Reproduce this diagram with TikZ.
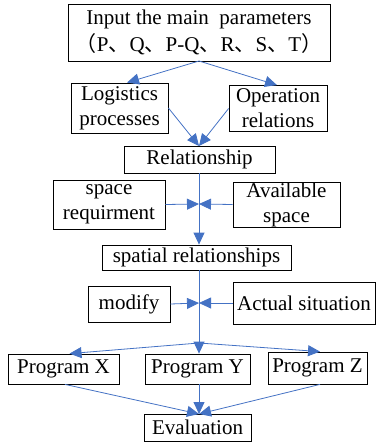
\documentclass[tikz,border=0pt]{standalone}
\usepackage{fontspec}
\setmainfont{Liberation Serif}
\newfontfamily\textserif{Liberation Serif}
\newfontfamily\cjk{Noto Sans CJK SC}
\usetikzlibrary{arrows.meta}

\definecolor{boxcolor}{RGB}{0,0,0}
\definecolor{linkcolor}{RGB}{68,114,196}

\begin{document}
\begin{tikzpicture}[x=1pt,y=-1pt,
    stepbox/.style={draw=boxcolor,line width=0.8pt,inner sep=0pt,align=center,
        font=\textserif\fontsize{21}{25}\selectfont},
    link/.style={draw=linkcolor,line width=0.8pt,-{Triangle[length=12pt,width=11pt]}}]
    \useasboundingbox (0,0) rectangle (377,443);

    % Draw the boxes
    \node[stepbox,minimum width=262pt,minimum height=57pt,font=\textserif\fontsize{21}{27}\selectfont] (input) at (199,32.5)
        {Input the main~ parameters\\{\cjk （}P{\cjk 、}Q{\cjk 、}P-Q{\cjk 、}R{\cjk 、}S{\cjk 、}T{\cjk ）}};
    \node[stepbox,minimum width=97pt,minimum height=50pt] (logis) at (119.5,108) {Logistics\\processes};
    \node[stepbox,minimum width=98pt,minimum height=46pt] (oper) at (278,108.5) {Operation\\relations};
    \node[stepbox,minimum width=151pt,minimum height=27pt] (rel) at (199.5,159.5) {Relationship};
    \node[stepbox,minimum width=112pt,minimum height=49pt] (spacereq) at (109,204.5) {space\\requirment};
    \node[stepbox,minimum width=107pt,minimum height=45pt] (avail) at (286.5,204.5) {Available\\space};
    \node[stepbox,minimum width=189pt,minimum height=25pt] (spatial) at (196.5,257.5) {spatial relationships};
    \node[stepbox,minimum width=82pt,minimum height=36pt] (modify) at (129,304) {modify};
    \node[stepbox,minimum width=142pt,minimum height=42pt] (actual) at (304,303) {Actual situation};
    \node[stepbox,minimum width=111pt,minimum height=30pt] (progx) at (63.5,369) {Program X};
    \node[stepbox,minimum width=105pt,minimum height=30pt] (progy) at (197.5,369) {Program Y};
    \node[stepbox,minimum width=99pt,minimum height=32pt] (progz) at (317.5,368) {Program Z};
    \node[stepbox,minimum width=107pt,minimum height=27pt] (eval) at (197.5,427.5) {Evaluation};

    % Junction points on the main line
    \coordinate (top) at (199,61);
    \coordinate (relin) at (199,146);
    \coordinate (join1) at (199,204);
    \coordinate (join2) at (199,303);
    \coordinate (split) at (199,343);
    \coordinate (evalin) at (199,414);

    % Draw the connectors
    \draw[link] (top) -- ([xshift=7.5pt]logis.north);
    \draw[link] (top) -- ([xshift=-1pt]oper.north);
    \draw[link] (logis.east) -- (relin);
    \draw[link] (oper.west) -- (relin);
    \draw[link] (rel.south -| relin) -- (spatial.north -| relin);
    \draw[link] (spacereq.east) -- (join1);
    \draw[link] (avail.west) -- (join1);
    \draw[link] (spatial.south -| relin) -- (progy.north -| relin);
    \draw[link] (modify.east) -- (join2);
    \draw[link] (actual.west) -- (join2);
    \draw[link] (split) -- ([xshift=6pt]progx.north);
    \draw[link] (split) -- ([xshift=2.5pt]progz.north);
    \draw[link] ([xshift=1.5pt]progx.south) -- (evalin);
    \draw[link] (progy.south -| evalin) -- (evalin);
    \draw[link] ([xshift=2.5pt]progz.south) -- (evalin);
\end{tikzpicture}
\end{document}
